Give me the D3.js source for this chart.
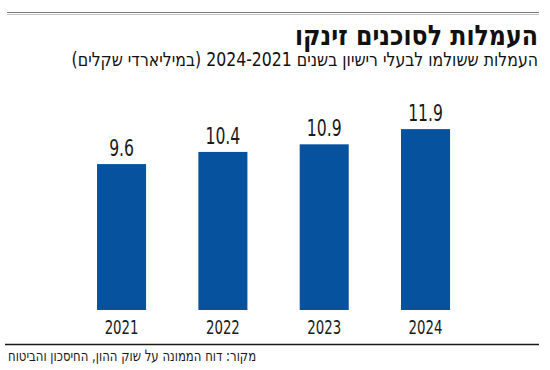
<!DOCTYPE html>
<html>
<head>
<meta charset="utf-8">
<script src="https://cdn.jsdelivr.net/npm/d3@7"></script>
<style>
  body { margin: 0; background: #fff; }
  text { font-family: "Liberation Sans Narrow", "DejaVu Sans Condensed", "DejaVu Sans", sans-serif; }
</style>
</head>
<body>
<svg width="550" height="370"></svg>
<script>
var width = 550;
var height = 370;

var years = ["2021", "2022", "2023", "2024"];
var commissions = [9.6, 10.4, 10.9, 11.9];
var title = "העמלות לסוכנים זינקו";
var subtitle = "העמלות ששולמו לבעלי רישיון בשנים 2024-2021 (במיליארדי שקלים)";
var source = "מקור: דוח הממונה על שוק ההון, החיסכון והביטוח";

var data = years.map((y, i) => ({year: y, value: commissions[i]}));

var svg = d3.select("svg");

// the original font is a narrow one, so squeeze text horizontally
var narrow = 0.74;

var xScale = d3.scaleBand()
              .domain(years)
              .range([70.9, 476.2])
              .paddingInner(0.516)
              .paddingOuter(0.258);

var yScale = d3.scaleLinear()
              .domain([0, 12])
              .range([310, 127.6]);

// top double rule
svg.append("line")
    .attr("x1", 7).attr("x2", 539)
    .attr("y1", 12.5).attr("y2", 12.5)
    .attr("stroke", "#7a7a7a")
    .attr("stroke-width", 1.2);
svg.append("line")
    .attr("x1", 7).attr("x2", 539)
    .attr("y1", 14.5).attr("y2", 14.5)
    .attr("stroke", "#c4c4c4")
    .attr("stroke-width", 1);

svg.append("text")
    .attr("transform", "translate(538,45) scale(0.94,1)")
    .attr("direction", "rtl")
    .style("text-anchor", "start")
    .style("font-size", "28px")
    .style("font-weight", "bold")
    .style("fill", "#111")
    .text(title);

svg.append("text")
    .attr("transform", "translate(538,66) scale(0.92,1)")
    .attr("direction", "rtl")
    .style("text-anchor", "start")
    .style("font-size", "19px")
    .style("fill", "#111")
    .text(subtitle);

svg.selectAll("rect")
  .data(data)
  .enter()
  .append("rect")
    .attr("x", d => xScale(d.year))
    .attr("y", d => yScale(d.value))
    .attr("width", xScale.bandwidth())
    .attr("height", d => yScale(0) - yScale(d.value))
    .attr("fill", "#06529e");

svg.selectAll(".value")
  .data(data)
  .enter()
  .append("text")
    .attr("class", "value")
    .attr("transform", d => "translate(" + (xScale(d.year) + xScale.bandwidth() / 2) + "," + (yScale(d.value) - 8) + ") scale(" + narrow + ",1)")
    .style("text-anchor", "middle")
    .style("font-size", "23.5px")
    .style("fill", "#1a1a1a")
    .text(d => d.value.toFixed(1));

var xAxis = d3.axisBottom(xScale).tickSize(0).tickPadding(0);
svg.append("g")
    .attr("transform", "translate(0,320)")
    .call(xAxis)
    .call(g => g.select(".domain").remove())
    .selectAll("text")
      .attr("dy", "0.71em")
      .attr("transform", "scale(" + narrow + ",1)")
      .style("font-size", "20px")
      .style("fill", "#1a1a1a");

// bottom rule
svg.append("line")
    .attr("x1", 5).attr("x2", 539)
    .attr("y1", 344.5).attr("y2", 344.5)
    .attr("stroke", "#1a1a1a")
    .attr("stroke-width", 1.5);

svg.append("text")
    .attr("transform", "translate(8,361) scale(0.84,1)")
    .attr("direction", "rtl")
    .style("text-anchor", "end")
    .style("font-size", "15.5px")
    .style("fill", "#1a1a1a")
    .text(source);
</script>
</body>
</html>
